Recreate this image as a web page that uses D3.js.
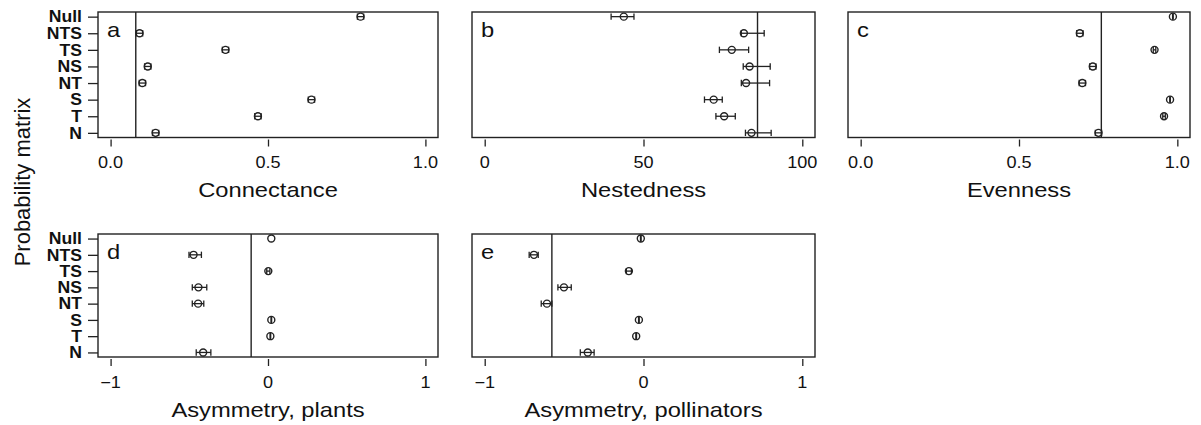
<!DOCTYPE html>
<html>
<head>
<meta charset="utf-8">
<script src="https://cdn.jsdelivr.net/npm/d3@7"></script>
<style>
  body { margin: 0; background: #fff; }
  text { font-family: "Liberation Sans", Arial, Helvetica, sans-serif; fill: #111; }
</style>
</head>
<body>
<div id="chart"></div>
<script>
// categories (top to bottom)
var categories = ["Null", "NTS", "TS", "NS", "NT", "S", "T", "N"];

// a - connectance
var connectance   = [0.794, 0.092, 0.365, 0.118, 0.101, 0.638, 0.468, 0.143];
var connectanceLo = [0.784, 0.082, 0.355, 0.108, 0.091, 0.628, 0.458, 0.133];
var connectanceHi = [0.804, 0.102, 0.375, 0.128, 0.111, 0.648, 0.478, 0.153];
var connectanceRef = 0.080;

// b - nestedness
var nestedness   = [43.8, 81.6, 77.8, 83.4, 82.3, 72.1, 75.4, 84.0];
var nestednessLo = [39.8, 80.8, 73.9, 81.4, 80.8, 69.2, 72.8, 82.1];
var nestednessHi = [47.0, 88.0, 83.1, 89.9, 89.7, 74.8, 78.9, 90.2];
var nestednessRef = 85.9;

// c - evenness
var evenness   = [0.986, 0.692, 0.928, 0.733, 0.700, 0.977, 0.958, 0.751];
var evennessLo = [0.985, 0.682, 0.924, 0.723, 0.690, 0.976, 0.954, 0.741];
var evennessHi = [0.987, 0.702, 0.932, 0.743, 0.710, 0.978, 0.962, 0.761];
var evennessRef = 0.760;

// d - asymmetry, plants
var asymPlants   = [0.021, -0.473, 0.002, -0.442, -0.444, 0.021, 0.015, -0.412];
var asymPlantsLo = [0.021, -0.502, -0.008, -0.481, -0.481, 0.019, 0.013, -0.456];
var asymPlantsHi = [0.021, -0.423, 0.012, -0.389, -0.408, 0.023, 0.017, -0.363];
var asymPlantsRef = -0.107;

// e - asymmetry, pollinators
var asymPoll   = [-0.017, -0.690, -0.092, -0.501, -0.608, -0.029, -0.046, -0.351];
var asymPollLo = [-0.019, -0.720, -0.108, -0.539, -0.644, -0.031, -0.048, -0.398];
var asymPollHi = [-0.015, -0.663, -0.076, -0.455, -0.577, -0.027, -0.044, -0.311];
var asymPollRef = -0.577;

// tick values
var ticksUnit = [0, 0.5, 1];
var ticksPct = [0, 50, 100];
var ticksSym = [-1, 0, 1];

var W = 1201, H = 425;
var SX = 1.13; // horizontal stretch of the original figure's text

var svg = d3.select("#chart").append("svg")
    .attr("width", W)
    .attr("height", H);

function stretchText(g, x, y, str, size, anchor, weight, sx) {
  return g.append("text")
    .attr("transform", "translate(" + x + "," + y + ") scale(" + (sx || SX) + ",1)")
    .attr("text-anchor", anchor)
    .style("font-size", size + "px")
    .style("font-weight", weight || "normal")
    .text(str);
}

function panel(opt) {
  var g = svg.append("g");
  var box = opt.box;
  var ext = (opt.domain[1] - opt.domain[0]) * 0.04;

  var x = d3.scaleLinear()
    .domain([opt.domain[0] - ext, opt.domain[1] + ext])
    .range([box.x0, box.x1]);
  var y = d3.scalePoint()
    .domain(categories)
    .range([box.y0, box.y1])
    .padding(0.28);

  var data = categories.map(function(c, i) {
    return {cat: c, v: opt.vals[i], lo: opt.lo[i], hi: opt.hi[i]};
  });

  // reference line
  g.append("line")
    .attr("x1", x(opt.ref)).attr("x2", x(opt.ref))
    .attr("y1", box.y0).attr("y2", box.y1)
    .attr("stroke", "#222").attr("stroke-width", 1.4);

  // error bars
  var eb = g.selectAll(".eb")
    .data(data.filter(function(d) { return d.hi > d.lo; }))
    .enter().append("g");
  eb.append("line")
    .attr("x1", function(d) { return x(d.lo); })
    .attr("x2", function(d) { return x(d.hi); })
    .attr("y1", function(d) { return y(d.cat); })
    .attr("y2", function(d) { return y(d.cat); })
    .attr("stroke", "#222").attr("stroke-width", 1.3);
  ["lo", "hi"].forEach(function(k) {
    eb.append("line")
      .attr("x1", function(d) { return x(d[k]); })
      .attr("x2", function(d) { return x(d[k]); })
      .attr("y1", function(d) { return y(d.cat) - 3.2; })
      .attr("y2", function(d) { return y(d.cat) + 3.2; })
      .attr("stroke", "#222").attr("stroke-width", 1.3);
  });

  // points
  g.selectAll(".pt")
    .data(data)
    .enter().append("circle")
    .attr("cx", function(d) { return x(d.v); })
    .attr("cy", function(d) { return y(d.cat); })
    .attr("r", 3.5)
    .attr("fill", "none")
    .attr("stroke", "#222")
    .attr("stroke-width", 1.4);

  // box
  g.append("rect")
    .attr("x", box.x0).attr("y", box.y0)
    .attr("width", box.x1 - box.x0).attr("height", box.y1 - box.y0)
    .attr("fill", "none").attr("stroke", "#222").attr("stroke-width", 1.4);

  // x axis
  var xa = g.append("g")
    .attr("transform", "translate(0," + (box.y1 + 2) + ")")
    .call(d3.axisBottom(x).tickValues(opt.ticks).tickSize(7).tickFormat(""));
  xa.select(".domain").remove();
  xa.selectAll("line").attr("stroke", "#222").attr("stroke-width", 1.3);
  opt.ticks.forEach(function(t, i) {
    stretchText(g, x(t), box.y1 + 30.5, opt.tickLabels[i], 16, "middle");
  });
  stretchText(g, (box.x0 + box.x1) / 2, box.y1 + 59.5, opt.title, 21, "middle");

  // y axis
  if (opt.yaxis) {
    var ya = g.append("g")
      .attr("transform", "translate(" + box.x0 + ",0)")
      .call(d3.axisLeft(y).tickSize(10).tickFormat(""));
    ya.select(".domain").remove();
    ya.selectAll("line").attr("stroke", "#222").attr("stroke-width", 1.3);
    categories.forEach(function(c) {
      stretchText(g, box.x0 - 16, y(c) + 5.8, c, 16, "end", "bold", 1.1);
    });
  }

  // panel letter
  stretchText(g, box.x0 + 9, box.y0 + 24.5, opt.letter, 21, "start");
}

var topBox = {y0: 12, y1: 137.5};
var botBox = {y0: 234, y1: 357};

panel({box: {x0: 98, x1: 438, y0: topBox.y0, y1: topBox.y1}, domain: [0, 1],
  vals: connectance, lo: connectanceLo, hi: connectanceHi, ref: connectanceRef,
  ticks: ticksUnit, tickLabels: ["0.0", "0.5", "1.0"], title: "Connectance", letter: "a", yaxis: true});
panel({box: {x0: 472, x1: 815, y0: topBox.y0, y1: topBox.y1}, domain: [0, 100],
  vals: nestedness, lo: nestednessLo, hi: nestednessHi, ref: nestednessRef,
  ticks: ticksPct, tickLabels: ["0", "50", "100"], title: "Nestedness", letter: "b", yaxis: false});
panel({box: {x0: 848, x1: 1190, y0: topBox.y0, y1: topBox.y1}, domain: [0, 1],
  vals: evenness, lo: evennessLo, hi: evennessHi, ref: evennessRef,
  ticks: ticksUnit, tickLabels: ["0.0", "0.5", "1.0"], title: "Evenness", letter: "c", yaxis: false});
panel({box: {x0: 98, x1: 438, y0: botBox.y0, y1: botBox.y1}, domain: [-1, 1],
  vals: asymPlants, lo: asymPlantsLo, hi: asymPlantsHi, ref: asymPlantsRef,
  ticks: ticksSym, tickLabels: ["\u22121", "0", "1"], title: "Asymmetry, plants", letter: "d", yaxis: true});
panel({box: {x0: 472, x1: 815, y0: botBox.y0, y1: botBox.y1}, domain: [-1, 1],
  vals: asymPoll, lo: asymPollLo, hi: asymPollHi, ref: asymPollRef,
  ticks: ticksSym, tickLabels: ["\u22121", "0", "1"], title: "Asymmetry, pollinators", letter: "e", yaxis: false});

// shared y title
svg.append("text")
  .attr("transform", "translate(30,182) rotate(-90)")
  .attr("text-anchor", "middle")
  .style("font-size", "22px")
  .text("Probability matrix");
</script>
</body>
</html>
